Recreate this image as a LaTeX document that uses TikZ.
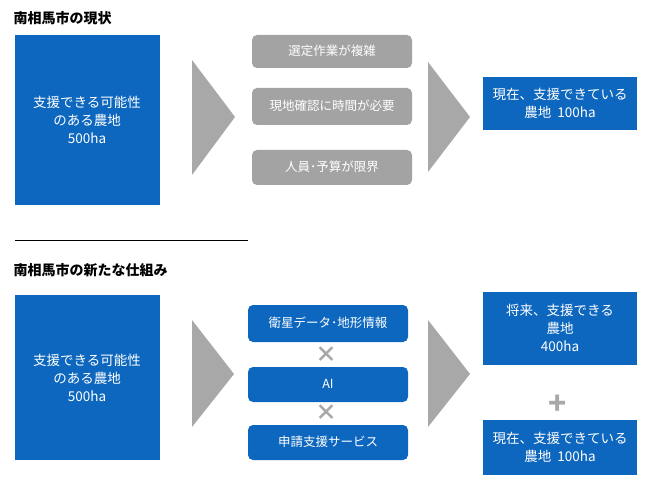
\documentclass[tikz,border=0pt]{standalone}
\usepackage{fontspec}
\setmainfont{Noto Sans CJK JP}
\begin{document}
\begin{tikzpicture}[x=1pt,y=-1pt,
  blue/.style={fill=blueA,draw=none,text=white,font=\fontsize{13.5}{18}\selectfont,align=center},
  gbox/.style={fill=grayB,draw=none,rounded corners=5pt,text=white,font=\fontsize{12.5}{15}\selectfont},
  rbox/.style={fill=blueA,draw=none,rounded corners=5pt,text=white,font=\fontsize{12.5}{15}\selectfont},
  tri/.style={fill=grayA,draw=none},
  title/.style={font=\bfseries\fontsize{14}{17}\selectfont,anchor=west}]
\definecolor{blueA}{HTML}{0E67BE}
\definecolor{grayA}{HTML}{A8A8A8}
\definecolor{grayB}{HTML}{A3A3A3}
\useasboundingbox (0,0) rectangle (650,494);
\node[title] (t1) at (10,18) {南相馬市の現状};
\path[blue] (15,35) rectangle (160,205);
\node[blue] (a1) at (87,120) {支援できる可能性\\のある農地\\500ha};
\fill[tri] (192,60) -- (235,117) -- (192,175) -- cycle;
\path[gbox] (252,35) rectangle (412,68);
\node[gbox] (g1) at (332,51) {選定作業が複雑};
\path[gbox] (252,88) rectangle (412,125);
\node[gbox] (g2) at (332,106) {現地確認に時間が必要};
\path[gbox] (252,150) rectangle (412,185);
\node[gbox] (g3) at (332,167) {人員･予算が限界};
\fill[tri] (428,62) -- (470,117) -- (428,172) -- cycle;
\path[blue] (483,77) rectangle (637,130);
\node[blue] (r1) at (560,103) {現在、支援できている\\農地\ \ 100ha};
\draw[black,line width=0.8pt] (15,240) -- (248,240);
\node[title] (t2) at (10,270) {南相馬市の新たな仕組み};
\path[blue] (15,295) rectangle (160,460);
\node[blue] (a2) at (87,378) {支援できる可能性\\のある農地\\500ha};
\fill[tri] (192,320) -- (234,374) -- (192,427) -- cycle;
\path[rbox] (248,305) rectangle (408,342);
\node[rbox] (b1) at (328,323) {衛星データ･地形情報};
\path[rbox] (248,367) rectangle (408,402);
\node[rbox] (b2) at (328,384) {AI};
\path[rbox] (248,425) rectangle (408,460);
\node[rbox] (b3) at (328,442) {申請支援サービス};
\node[text=grayA,font=\bfseries\fontsize{22}{22}\selectfont] (x1) at (326,355) {×};
\node[text=grayA,font=\bfseries\fontsize{22}{22}\selectfont] (x2) at (326,413) {×};
\fill[tri] (428,320) -- (470,374) -- (428,427) -- cycle;
\path[blue] (483,292) rectangle (637,365);
\node[blue] (r2) at (560,328) {将来、支援できる\\農地\\400ha};
\node[text=grayA,font=\bfseries\fontsize{30}{30}\selectfont] (p) at (558,405) {+};
\path[blue] (483,420) rectangle (637,475);
\node[blue] (r3) at (560,447) {現在、支援できている\\農地\ \ 100ha};
\end{tikzpicture}
\end{document}
